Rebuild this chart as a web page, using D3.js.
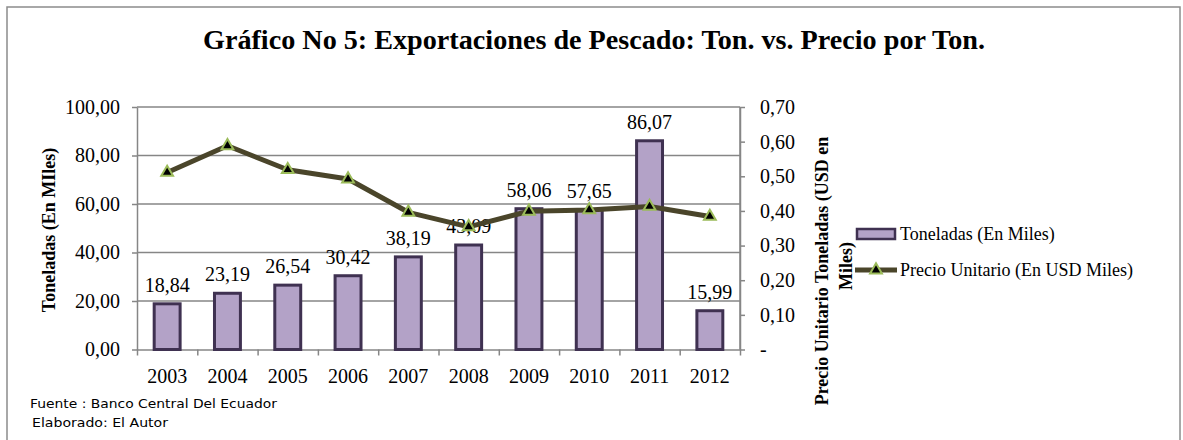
<!DOCTYPE html>
<html>
<head>
<meta charset="utf-8">
<script src="https://cdn.jsdelivr.net/npm/d3@7"></script>
<style>
  body { margin: 0; background: #fff; }
  svg text { font-family: 'Liberation Serif', 'Times New Roman', serif; fill: #000; }
  .domain { stroke: #868686; stroke-width: 1.5px; }
  .tick line { stroke: #868686; stroke-width: 1.5px; }
</style>
</head>
<body>
<script>
// data
const years = ['2003', '2004', '2005', '2006', '2007', '2008', '2009', '2010', '2011', '2012']
const toneladas = [18.84, 23.19, 26.54, 30.42, 38.19, 43.09, 58.06, 57.65, 86.07, 15.99]
const precio = [0.511, 0.588, 0.519, 0.492, 0.396, 0.354, 0.399, 0.403, 0.413, 0.384]
const leftTicks = [0, 20, 40, 60, 80, 100]
const rightTicks = [0, 0.1, 0.2, 0.3, 0.4, 0.5, 0.6, 0.7]

const title = 'Gráfico No 5: Exportaciones de Pescado: Ton. vs. Precio por Ton.'
const leftTitle = 'Toneladas (En MIles)'
const rightTitle = ['Precio Unitario Toneladas (USD en', 'Miles)']
const legendLabels = ['Toneladas (En Miles)', 'Precio Unitario (En USD Miles)']
const notes = ['Fuente : Banco Central Del Ecuador', 'Elaborado: El Autor']

const w = 1183
const h = 440
const plot = { left: 137, right: 740, top: 107, bottom: 349.5 }

const barFill = '#b3a2c7'
const barStroke = '#3f3151'
const lineColor = '#4a452a'
const markerStroke = '#9bbb59'

const comma = v => v.toFixed(2).replace('.', ',')

const svg = d3.select('body')
  .append('svg')
  .attr('width', w)
  .attr('height', h)

// outer frame
svg.append('rect')
  .attr('x', 7)
  .attr('y', 7)
  .attr('width', 1173)
  .attr('height', 445)
  .style('fill', 'none')
  .style('stroke', '#8c8c8c')
  .style('stroke-width', '1.5px')

// scales
const xScale = d3.scaleBand()
  .domain(years)
  .range([plot.left, plot.right])

const yLeft = d3.scaleLinear()
  .domain([0, 100])
  .range([plot.bottom, plot.top])

const yRight = d3.scaleLinear()
  .domain([0, 0.7])
  .range([plot.bottom, plot.top])

// gridlines
svg.append('g')
  .selectAll('line')
  .data(leftTicks.filter(d => d > 0))
  .enter()
  .append('line')
  .attr('x1', plot.left)
  .attr('x2', plot.right)
  .attr('y1', d => yLeft(d))
  .attr('y2', d => yLeft(d))
  .style('stroke', '#868686')
  .style('stroke-width', '1.5px')

// right edge of the plot
svg.append('line')
  .attr('x1', plot.right)
  .attr('x2', plot.right)
  .attr('y1', plot.top)
  .attr('y2', plot.bottom)
  .style('stroke', '#868686')
  .style('stroke-width', '1.5px')

// left axis
const leftAxis = d3.axisLeft(yLeft)
  .tickValues(leftTicks)
  .tickFormat(comma)
  .tickSize(5)
  .tickSizeOuter(0)
  .tickPadding(12)

svg.append('g')
  .attr('transform', `translate(${plot.left},0)`)
  .call(leftAxis)
  .selectAll('text')
  .style('font-size', '20px')

// right axis
const rightAxis = d3.axisRight(yRight)
  .tickValues(rightTicks)
  .tickFormat(d => (d === 0 ? '-' : comma(d)))
  .tickSize(5)
  .tickSizeOuter(0)
  .tickPadding(15)

svg.append('g')
  .attr('transform', `translate(${plot.right},0)`)
  .call(rightAxis)
  .selectAll('text')
  .style('font-size', '20px')

// bottom axis: tick marks between categories
const edgeScale = d3.scaleLinear()
  .domain([0, years.length])
  .range([plot.left, plot.right])

svg.append('g')
  .attr('transform', `translate(0,${plot.bottom})`)
  .call(d3.axisBottom(edgeScale)
    .tickValues(d3.range(years.length + 1))
    .tickFormat('')
    .tickSize(6)
    .tickSizeOuter(0))

// year labels
svg.append('g')
  .attr('transform', `translate(0,${plot.bottom})`)
  .call(d3.axisBottom(xScale).tickSize(0).tickPadding(19))
  .call(g => g.select('.domain').remove())
  .selectAll('text')
  .style('font-size', '20px')

// bars
const barW = xScale.bandwidth() * 0.43

svg.append('g')
  .selectAll('rect')
  .data(toneladas)
  .enter()
  .append('rect')
  .attr('x', (d, i) => xScale(years[i]) + (xScale.bandwidth() - barW) / 2)
  .attr('y', d => yLeft(d))
  .attr('width', barW)
  .attr('height', d => yLeft(0) - yLeft(d))
  .style('fill', barFill)
  .style('stroke', barStroke)
  .style('stroke-width', '3px')

// bar value labels
svg.append('g')
  .selectAll('text')
  .data(toneladas)
  .enter()
  .append('text')
  .attr('x', (d, i) => xScale(years[i]) + xScale.bandwidth() / 2)
  .attr('y', d => yLeft(d) - 12)
  .attr('text-anchor', 'middle')
  .style('font-size', '20px')
  .text(d => comma(d))

// price line
const line = d3.line()
  .x((d, i) => xScale(years[i]) + xScale.bandwidth() / 2)
  .y(d => yRight(d))

svg.append('path')
  .datum(precio)
  .attr('d', line)
  .style('fill', 'none')
  .style('stroke', lineColor)
  .style('stroke-width', '5px')
  .style('stroke-linejoin', 'round')

const tri = d3.symbol().type(d3.symbolTriangle).size(60)

svg.append('g')
  .selectAll('path')
  .data(precio)
  .enter()
  .append('path')
  .attr('d', tri)
  .attr('transform', (d, i) =>
    `translate(${xScale(years[i]) + xScale.bandwidth() / 2},${yRight(d)})`)
  .style('fill', '#000')
  .style('stroke', markerStroke)
  .style('stroke-width', '2px')

// title
svg.append('text')
  .attr('x', 594)
  .attr('y', 49)
  .attr('text-anchor', 'middle')
  .attr('textLength', 782)
  .attr('lengthAdjust', 'spacingAndGlyphs')
  .style('font-size', '28px')
  .style('font-weight', 'bold')
  .text(title)

// axis titles
svg.append('text')
  .attr('transform', 'translate(55,230) rotate(-90)')
  .attr('text-anchor', 'middle')
  .style('font-size', '18px')
  .style('font-weight', 'bold')
  .text(leftTitle)

svg.append('text')
  .attr('transform', 'translate(828,271) rotate(-90)')
  .attr('text-anchor', 'middle')
  .style('font-size', '18px')
  .style('font-weight', 'bold')
  .text(rightTitle[0])

svg.append('text')
  .attr('transform', 'translate(852,266) rotate(-90)')
  .attr('text-anchor', 'middle')
  .style('font-size', '18px')
  .style('font-weight', 'bold')
  .text(rightTitle[1])

// legend
const legend = svg.append('g')

legend.append('rect')
  .attr('x', 857)
  .attr('y', 229)
  .attr('width', 38)
  .attr('height', 10)
  .style('fill', barFill)
  .style('stroke', barStroke)
  .style('stroke-width', '2.5px')

legend.append('line')
  .attr('x1', 855)
  .attr('x2', 897)
  .attr('y1', 270)
  .attr('y2', 270)
  .style('stroke', lineColor)
  .style('stroke-width', '5px')

legend.append('path')
  .attr('d', tri)
  .attr('transform', 'translate(876,270)')
  .style('fill', '#000')
  .style('stroke', markerStroke)
  .style('stroke-width', '2px')

legend.selectAll('text.lbl')
  .data(legendLabels)
  .enter()
  .append('text')
  .attr('class', 'lbl')
  .attr('x', 900)
  .attr('y', (d, i) => 240 + i * 36)
  .style('font-size', '18px')
  .text(d => d)

// source notes
svg.selectAll('text.note')
  .data(notes)
  .enter()
  .append('text')
  .attr('class', 'note')
  .attr('x', (d, i) => 30 + i * 2)
  .attr('y', (d, i) => 408 + i * 19)
  .attr('textLength', (d, i) => (i === 0 ? 247 : 136))
  .attr('lengthAdjust', 'spacingAndGlyphs')
  .style('font-family', "'DejaVu Sans', sans-serif")
  .style('font-size', '13px')
  .text(d => d)
</script>
</body>
</html>
